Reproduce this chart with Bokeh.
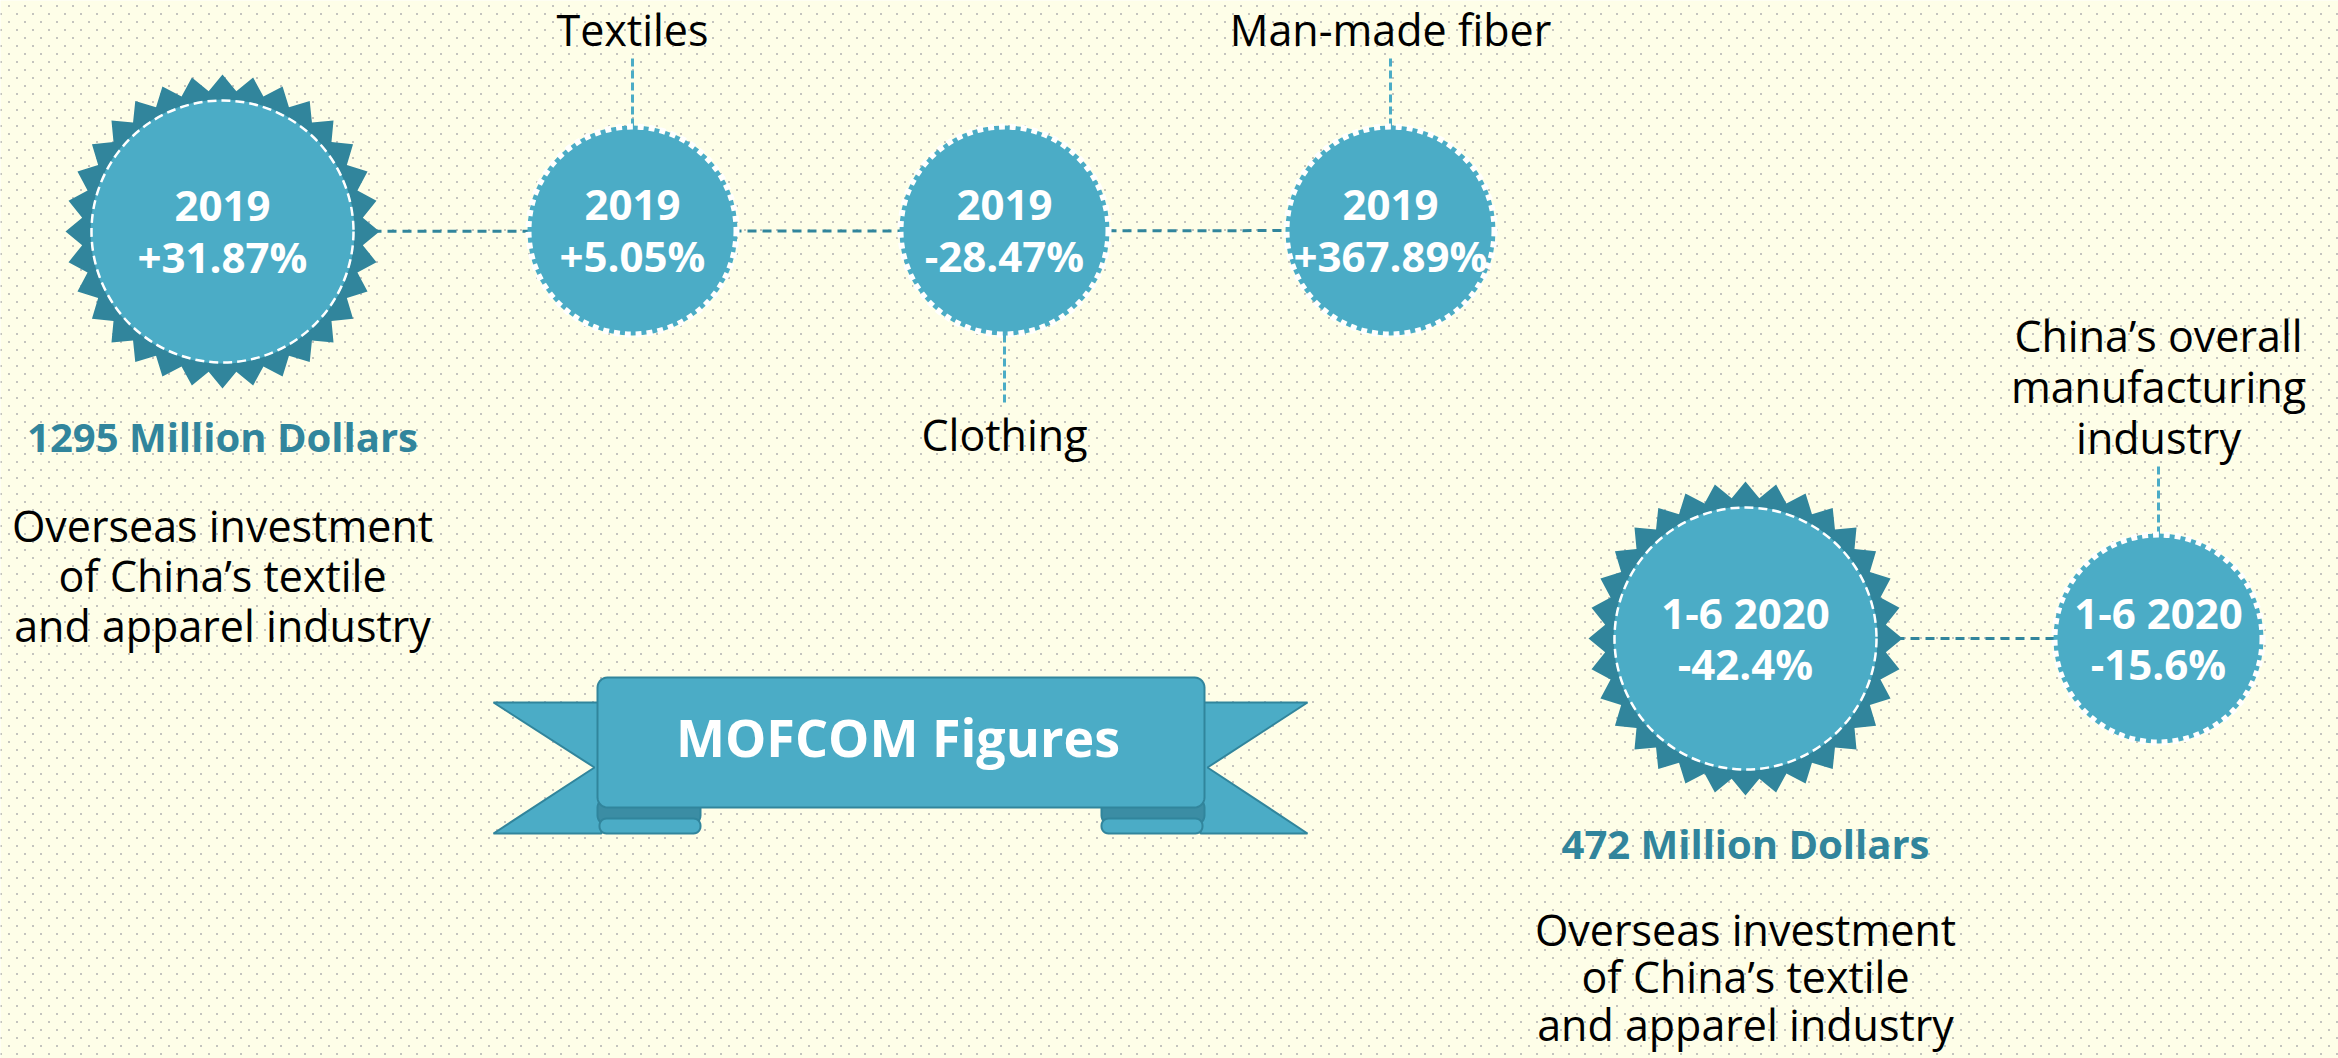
import numpy as np
from bokeh.plotting import figure
from bokeh.models import Range1d
from bokeh.core.properties import value
from bokeh.embed import file_html
from bokeh.resources import INLINE

# ---------------- data ----------------
node_years = ["2019", "2019", "2019", "2019", "1-6 2020", "1-6 2020"]
node_changes = ["+31.87%", "+5.05%", "-28.47%", "+367.89%", "-42.4%", "-15.6%"]
node_labels = ["", "Textiles", "Clothing", "Man-made fiber", "",
               "China\u2019s overall|manufacturing|industry"]
node_kind = ["star", "circle", "circle", "circle", "star", "circle"]
amounts = ["1295 Million Dollars", "472 Million Dollars"]
desc_lines = ["Overseas investment", "of China\u2019s textile", "and apparel industry"]
banner_title = "MOFCOM Figures"

# ---------------- layout (pixel positions of the infographic) ----------------
node_x = [222, 632, 1004, 1390, 1745, 2158]
node_y = [231, 230, 230, 230, 638, 638]
label_side = [0, -1, 1, -1, 0, -1]       # -1 above, +1 below
group_of_node = [0, 0, 0, 0, 1, 1]

BG = "#FEFEE8"
DOT = "#C4C4BE"
DARK = "#31859C"
LIGHT = "#4BACC6"
FOLD = "#3B8DA4"
FONT = value("Open Sans")
K = 0.4   # baseline correction (fraction of font size)

W, H = 2338, 1058
p = figure(width=W, height=H, x_range=Range1d(0, W), y_range=Range1d(H, 0),
           output_backend="svg", toolbar_location=None, min_border=0,
           x_axis_type=None, y_axis_type=None)
p.grid.visible = False
p.outline_line_color = None
p.background_fill_color = BG
p.border_fill_color = BG


def put_text(xs, bases, texts, size, color, bold=False):
    p.text(xs, [b - K * size for b in bases], text=texts, text_font=FONT,
           text_font_size=f"{size}px", text_font_style="bold" if bold else "normal",
           text_color=color, text_align="center", text_baseline="alphabetic")


# ---------------- dotted paper background ----------------
rows = np.arange(5, 1060, 8)
dx, dy = [], []
for k, yy in enumerate(rows):
    start = 8 if k % 2 == 0 else 0
    xs = np.arange(start, 2340, 16)
    dx.append(xs)
    dy.append(np.full(len(xs), yy))
dx = np.concatenate(dx) + 0.5
dy = np.concatenate(dy) + 0.5
p.scatter(dx, dy, marker="square", size=2, fill_color=DOT, line_color=None)

# ---------------- connectors ----------------
for g in (0, 1):
    idx = [i for i in range(len(node_x)) if group_of_node[i] == g]
    xs = [node_x[i] for i in idx]
    ys = [node_y[i] for i in idx]
    p.line([xs[0], xs[-1]], [ys[0], ys[-1]], line_color=DARK, line_width=3, line_dash="9 6")

for i, side in enumerate(label_side):
    if side == 0:
        continue
    y0 = node_y[i] + side * 104
    y1 = node_y[i] + side * 174
    p.line([node_x[i], node_x[i]], [y0, y1], line_color=LIGHT, line_width=3, line_dash="8 4")

# ---------------- nodes ----------------
def star_pts(cx, cy, r_out, r_in, n):
    a = np.arange(2 * n) * np.pi / n
    r = np.where(np.arange(2 * n) % 2 == 0, r_out, r_in)
    return list(cx + r * np.cos(a)), list(cy + r * np.sin(a))

for i, kind in enumerate(node_kind):
    cx, cy = node_x[i], node_y[i]
    if kind == "star":
        sx, sy = star_pts(cx, cy, 157, 141, 32)
        p.patch(sx, sy, fill_color=DARK, line_color=None)
        p.circle([cx], [cy], radius=132, fill_color=LIGHT, line_color=None)
        p.circle([cx], [cy], radius=131, fill_color=None, line_color="white",
                 line_width=2.5, line_dash="9 5")
    else:
        p.circle([cx], [cy], radius=105, fill_color=LIGHT, line_color=None)
        p.circle([cx], [cy], radius=104, fill_color=None, line_color="white",
                 line_width=6, line_dash="6 5")

# node texts
put_text(node_x, [y - 9 for y in node_y], node_years, 42, "white", bold=True)
put_text(node_x, [y + 42 for y in node_y], node_changes, 42, "white", bold=True)

# category labels
for i, lab in enumerate(node_labels):
    if not lab:
        continue
    lines = lab.split("|")
    side = label_side[i]
    if side < 0:
        last = node_y[i] - 184
        bases = [last - 51 * (len(lines) - 1 - k) for k in range(len(lines))]
    else:
        first = node_y[i] + 221
        bases = [first + 51 * k for k in range(len(lines))]
    put_text([node_x[i]] * len(lines), bases, lines, 43, "black")

# amounts + descriptions under the stars
star_idx = [i for i, k in enumerate(node_kind) if k == "star"]
for j, i in enumerate(star_idx):
    cx, cy = node_x[i], node_y[i]
    put_text([cx], [cy + 221], [amounts[j]], 40, DARK, bold=True)
    bases = [cy + 311 + 50 * k for k in range(3)]
    overflow = bases[-1] - (H - 17)
    if overflow > 0:                       # keep the last line inside the page
        bases = [b - overflow * (k + 1) / 3 for k, b in enumerate(bases)]
    put_text([cx] * 3, bases, desc_lines, 43, "black")

# ---------------- banner ----------------
def rrect(x0, y0, x1, y1, r, n=8):
    xs, ys = [], []
    corners = [(x0 + r, y0 + r, np.pi, 1.5 * np.pi), (x1 - r, y0 + r, 1.5 * np.pi, 2 * np.pi),
               (x1 - r, y1 - r, 0, 0.5 * np.pi), (x0 + r, y1 - r, 0.5 * np.pi, np.pi)]
    for cx, cy, a0, a1 in corners:
        a = np.linspace(a0, a1, n)
        xs += list(cx + r * np.cos(a))
        ys += list(cy + r * np.sin(a))
    return xs, ys

bx0, bx1, by0, by1 = 597, 1204, 677, 807
# tails
p.patch([493, bx0 + 4, bx0 + 4, 493, 594], [702, 702, 833, 833, 767],
        fill_color=LIGHT, line_color=DARK, line_width=2)
p.patch([bx1 - 4, 1307, 1207, 1307, bx1 - 4], [702, 702, 767, 833, 833],
        fill_color=LIGHT, line_color=DARK, line_width=2)
# folds
for fx0, fx1 in ((bx0, 700), (1101, bx1)):
    xs, ys = rrect(fx0, 798, fx1, 824, 9)
    p.patch(xs, ys, fill_color=FOLD, line_color=DARK, line_width=2)
for fx0, fx1 in ((bx0, 700), (1101, bx1)):
    if fx0 == bx0:
        xs, ys = rrect(fx0 + 2, 818, fx1, 833, 7)
    else:
        xs, ys = rrect(fx0, 818, fx1 - 2, 833, 7)
    p.patch(xs, ys, fill_color=LIGHT, line_color=DARK, line_width=2)
# main band
xs, ys = rrect(bx0, by0, bx1, by1, 10)
p.patch(xs, ys, fill_color=LIGHT, line_color=DARK, line_width=2)
put_text([(bx0 + bx1) / 2 - 3], [757], [banner_title], 52, "white", bold=True)

open("out.html", "w").write(file_html(p, INLINE))
